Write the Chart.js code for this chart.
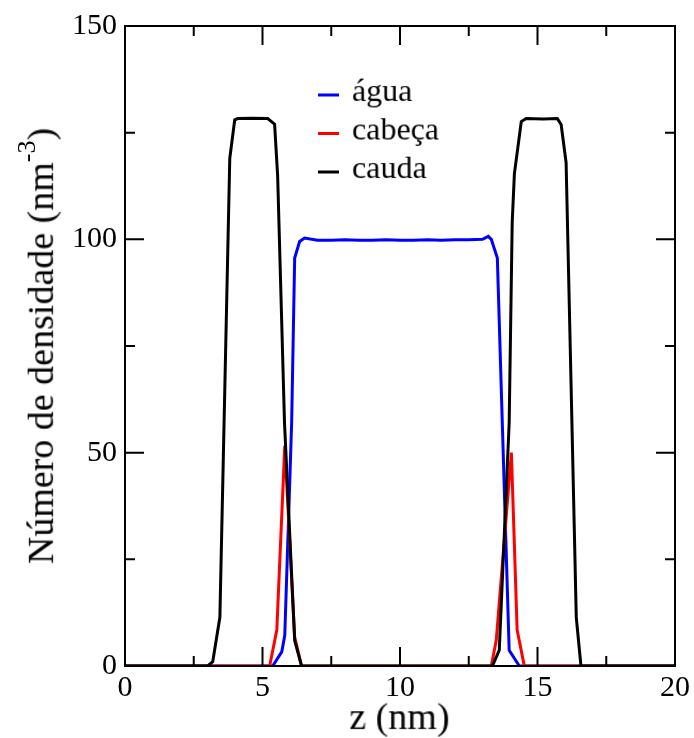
<!DOCTYPE html>
<html>
<head>
<meta charset="utf-8">
<script src="https://cdn.jsdelivr.net/npm/chart.js@4/dist/chart.umd.min.js"></script>
<style>
  body { margin: 0; background: #fff; }
  #wrap { width: 694px; height: 738px; }
</style>
</head>
<body>
<div id="wrap"><canvas id="perfil"></canvas></div>
<script>
// perfis de densidade (z em nm)
const zAgua = [0, 5.37, 5.7, 5.81, 6.06, 6.17, 6.35, 6.53, 7.0, 7.5, 8, 8.5, 9, 9.5, 10, 10.5, 11, 11.5, 12, 12.5, 13.0, 13.21, 13.32, 13.54, 13.72, 13.97, 14.34, 20];
const agua = [0, 0, 3.3, 7.2, 57, 95.6, 99.5, 100.3, 99.8, 99.8, 99.9, 99.8, 99.8, 99.9, 99.8, 99.8, 99.9, 99.8, 99.9, 99.9, 100, 100.7, 100, 95.6, 57, 3.7, 0, 0];

const zCabeca = [0, 5.26, 5.52, 5.81, 6.17, 6.42, 13.32, 13.5, 14.05, 14.26, 14.52, 20];
const cabeca = [0, 0, 8.4, 51.6, 6.8, 0, 0, 6, 50, 8.4, 0, 0];

const zCauda = [0, 3.01, 3.19, 3.45, 3.81, 3.99, 4.1, 4.6, 5.19, 5.44, 5.55, 5.8, 6.17, 6.42, 13.36, 13.61, 13.97, 14.08, 14.16, 14.41, 14.59, 15.2, 15.72, 15.86, 16.04, 16.41, 16.58, 20];
const cauda = [0, 0, 1, 11.4, 119, 128, 128.3, 128.4, 128.3, 127, 115, 57, 6, 0, 0, 3.7, 57, 104, 115.4, 127.6, 128.3, 128.2, 128.3, 126.9, 118, 11.4, 0, 0];

const ticksX = [0, 5, 10, 15, 20];
const minorX = [2.5, 7.5, 12.5, 17.5];
const ticksY = [0, 50, 100, 150];
const minorY = [25, 75, 125];

const legenda = [
    { texto: 'água', cor: '#0000ff' },
    { texto: 'cabeça', cor: '#ff0000' },
    { texto: 'cauda', cor: '#000000' }
];

// acima de 30px a serifada é trocada por outra fonte:
// escreve-se a 30px num canvas auxiliar e amplia-se
const fonte = '"Liberation Serif", serif';
const BASE = 30;

function texto(ctx, t, x, y, size, align) {
    if (size <= BASE) {
        ctx.save();
        ctx.font = size + 'px ' + fonte;
        ctx.textAlign = align || 'left';
        ctx.textBaseline = 'alphabetic';
        ctx.fillText(t, x, y);
        ctx.restore();
        return;
    }
    const k = size / BASE;
    const off = document.createElement('canvas');
    let oc = off.getContext('2d');
    oc.font = BASE + 'px ' + fonte;
    const w = Math.ceil(oc.measureText(t).width) + 4;
    off.width = w;
    off.height = 46;
    oc = off.getContext('2d');
    oc.font = BASE + 'px ' + fonte;
    oc.fillStyle = '#000';
    oc.textBaseline = 'alphabetic';
    oc.textAlign = 'left';
    oc.fillText(t, 2, 36);
    const dx = align === 'center' ? x - (w * k) / 2 : x - 2 * k;
    ctx.save();
    ctx.imageSmoothingEnabled = true;
    ctx.imageSmoothingQuality = 'high';
    ctx.drawImage(off, dx, y - 36 * k, w * k, 46 * k);
    ctx.restore();
}

function largura(ctx, t, size) {
    ctx.save();
    ctx.font = BASE + 'px ' + fonte;
    const w = ctx.measureText(t).width * size / BASE;
    ctx.restore();
    return w;
}

function pontos(xs, ys) {
    return xs.map((x, i) => ({ x: x, y: ys[i] }));
}

function serie(label, xs, ys, cor, ordem) {
    return {
        label: label,
        data: pontos(xs, ys),
        borderColor: cor,
        backgroundColor: cor,
        borderWidth: 3,
        pointRadius: 0,
        tension: 0,
        fill: false,
        order: ordem
    };
}

// moldura, marcas internas, títulos e legenda
const molduraPlugin = {
    id: 'moldura',
    afterDatasetsDraw(chart) {
        const ctx = chart.ctx;
        const a = chart.chartArea;
        const sx = chart.scales.x;
        const sy = chart.scales.y;
        ctx.save();
        ctx.strokeStyle = '#000';
        ctx.lineWidth = 2;
        ctx.strokeRect(a.left, a.top, a.right - a.left, a.bottom - a.top);

        ctx.beginPath();
        const marcaX = (v, len) => {
            const px = sx.getPixelForValue(v);
            ctx.moveTo(px, a.bottom); ctx.lineTo(px, a.bottom - len);
            ctx.moveTo(px, a.top); ctx.lineTo(px, a.top + len);
        };
        const marcaY = (v, len) => {
            const py = sy.getPixelForValue(v);
            ctx.moveTo(a.left, py); ctx.lineTo(a.left + len, py);
            ctx.moveTo(a.right, py); ctx.lineTo(a.right - len, py);
        };
        ticksX.slice(1, -1).forEach(v => marcaX(v, 19));
        minorX.forEach(v => marcaX(v, 10));
        ticksY.slice(1, -1).forEach(v => marcaY(v, 19));
        minorY.forEach(v => marcaY(v, 10));
        ctx.stroke();
        ctx.restore();
    },
    afterDraw(chart) {
        const ctx = chart.ctx;
        const a = chart.chartArea;
        ctx.save();
        ctx.fillStyle = '#000';

        // título do eixo x
        texto(ctx, 'z (nm)', (a.left + a.right) / 2, 729, 38, 'center');

        // título do eixo y com expoente
        const t1 = 'Número de densidade (nm';
        const t2 = '-3';
        const t3 = ')';
        const w1 = largura(ctx, t1, 38);
        const w2 = largura(ctx, t2, 26);
        const w3 = largura(ctx, t3, 38);
        const total = w1 + w2 + w3;
        ctx.translate(53, (a.top + a.bottom) / 2);
        ctx.rotate(-Math.PI / 2);
        const x0 = -total / 2;
        texto(ctx, t1, x0, 0, 38);
        texto(ctx, t2, x0 + w1, -18, 26);
        texto(ctx, t3, x0 + w1 + w2, 0, 38);
        ctx.restore();

        // legenda
        ctx.save();
        legenda.forEach((item, i) => {
            const y = 95 + i * 38.5;
            ctx.strokeStyle = item.cor;
            ctx.lineWidth = 3;
            ctx.beginPath();
            ctx.moveTo(318, y);
            ctx.lineTo(339, y);
            ctx.stroke();
            texto(ctx, item.texto, 352, y + 6, 32);
        });
        ctx.restore();
    }
};

new Chart(document.getElementById('perfil'), {
    type: 'line',
    data: {
        datasets: [
            serie('água', zAgua, agua, '#0000ff', 3),
            serie('cabeça', zCabeca, cabeca, '#ff0000', 2),
            serie('cauda', zCauda, cauda, '#000000', 1)
        ]
    },
    options: {
        responsive: true,
        maintainAspectRatio: false,
        animation: false,
        layout: { padding: { top: 25, right: 18, left: 0, bottom: 0 } },
        plugins: {
            legend: { display: false },
            tooltip: { enabled: false }
        },
        scales: {
            x: {
                type: 'linear',
                min: 0,
                max: 20,
                afterFit: s => { s.height = 72; },
                afterBuildTicks: s => { s.ticks = ticksX.map(v => ({ value: v })); },
                grid: { display: false, drawTicks: false },
                border: { display: false },
                ticks: {
                    padding: 4,
                    color: '#000',
                    maxRotation: 0,
                    font: { family: fonte, size: 30 }
                }
            },
            y: {
                type: 'linear',
                min: 0,
                max: 150,
                afterFit: s => { s.width = 125; },
                afterBuildTicks: s => { s.ticks = ticksY.map(v => ({ value: v })); },
                grid: { display: false, drawTicks: false },
                border: { display: false },
                ticks: {
                    padding: 8,
                    color: '#000',
                    font: { family: fonte, size: 30 }
                }
            }
        }
    },
    plugins: [molduraPlugin]
});
</script>
</body>
</html>
